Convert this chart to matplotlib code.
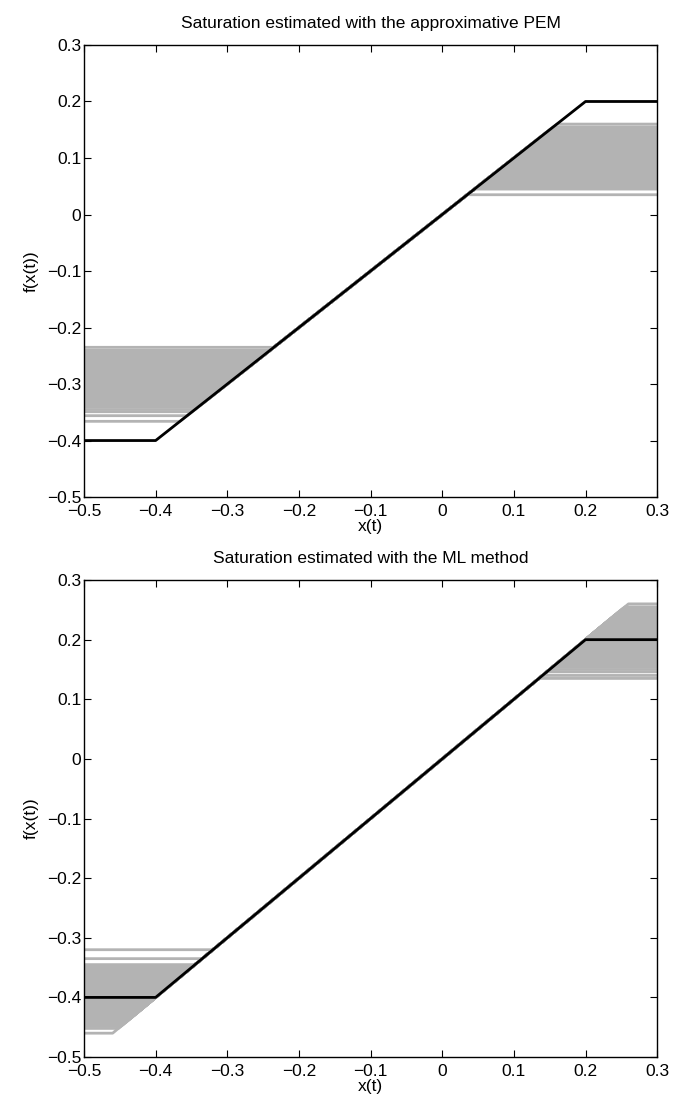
import numpy as np
import matplotlib
matplotlib.use('Agg')
import matplotlib.pyplot as plt

plt.rcParams['font.family'] = ['Liberation Sans', 'DejaVu Sans']

# 真实饱和限
true_lo = -0.4
true_hi = 0.2

# PEM 估计的饱和下限/上限（每条灰线一对）
pem_lo = [-0.235, -0.240, -0.242, -0.245, -0.247, -0.250, -0.253, -0.255, -0.258, -0.260,
          -0.262, -0.265, -0.268, -0.270, -0.272, -0.275, -0.277, -0.280, -0.283, -0.285,
          -0.287, -0.290, -0.292, -0.295, -0.298, -0.300, -0.302, -0.305, -0.307, -0.310,
          -0.313, -0.315, -0.318, -0.320, -0.322, -0.325, -0.328, -0.330, -0.333, -0.335,
          -0.338, -0.340, -0.345, -0.349, -0.356, -0.366]
pem_hi = [0.160, 0.155, 0.153, 0.150, 0.148, 0.146, 0.143, 0.141, 0.138, 0.136,
          0.133, 0.131, 0.128, 0.126, 0.123, 0.121, 0.118, 0.116, 0.113, 0.111,
          0.108, 0.106, 0.103, 0.101, 0.098, 0.096, 0.093, 0.091, 0.088, 0.086,
          0.083, 0.081, 0.078, 0.076, 0.073, 0.071, 0.068, 0.066, 0.063, 0.061,
          0.058, 0.055, 0.052, 0.048, 0.045, 0.035]

# ML 估计
ml_lo = [-0.320, -0.335, -0.345, -0.347, -0.350, -0.352, -0.355, -0.357, -0.360, -0.362,
         -0.365, -0.367, -0.370, -0.372, -0.375, -0.377, -0.380, -0.382, -0.385, -0.387,
         -0.390, -0.392, -0.395, -0.397, -0.400, -0.402, -0.405, -0.407, -0.410, -0.412,
         -0.415, -0.417, -0.420, -0.422, -0.425, -0.427, -0.430, -0.432, -0.435, -0.437,
         -0.440, -0.442, -0.445, -0.448, -0.452, -0.460]
ml_hi = [0.260, 0.255, 0.252, 0.250, 0.247, 0.245, 0.242, 0.240, 0.237, 0.235,
         0.232, 0.230, 0.227, 0.225, 0.222, 0.220, 0.217, 0.215, 0.212, 0.210,
         0.207, 0.205, 0.202, 0.200, 0.197, 0.195, 0.192, 0.190, 0.187, 0.185,
         0.182, 0.180, 0.177, 0.175, 0.172, 0.170, 0.167, 0.165, 0.162, 0.160,
         0.157, 0.154, 0.150, 0.146, 0.140, 0.135]

xticks = [-0.5, -0.4, -0.3, -0.2, -0.1, 0, 0.1, 0.2, 0.3]
xticklabels = ['\u22120.5', '\u22120.4', '\u22120.3', '\u22120.2', '\u22120.1', '0', '0.1', '0.2', '0.3']
yticks = xticks
yticklabels = xticklabels

titles = ['Saturation estimated with the approximative PEM',
          'Saturation estimated with the ML method']


def sat_curve(lo, hi):
    # 饱和函数折线: 左平台 - 斜率1 - 右平台
    return [-0.5, lo, hi, 0.3], [lo, lo, hi, hi]


fig = plt.figure(figsize=(6.74, 11.08), dpi=100, facecolor='white')
ax1 = fig.add_axes([0.1246, 0.5514, 0.8504, 0.408])
ax2 = fig.add_axes([0.1246, 0.0460, 0.8504, 0.4305])

for ax, los, his, title in [(ax1, pem_lo, pem_hi, titles[0]), (ax2, ml_lo, ml_hi, titles[1])]:
    for lo, hi in zip(los, his):
        xs, ys = sat_curve(lo, hi)
        ax.plot(xs, ys, color=(0.7, 0.7, 0.7), lw=2.0)
    xs, ys = sat_curve(true_lo, true_hi)
    ax.plot(xs, ys, color='black', lw=2.0)
    ax.set_xlim(-0.5, 0.3)
    ax.set_ylim(-0.5, 0.3)
    ax.set_xticks(xticks)
    ax.set_xticklabels(xticklabels, fontsize=12.5)
    ax.set_yticks(yticks)
    ax.set_yticklabels(yticklabels, fontsize=12.5)
    ax.tick_params(direction='in', length=5, width=0.8, top=True, right=True)
    ax.tick_params(axis='x', pad=5)
    ax.tick_params(axis='y', pad=2)
    for s in ax.spines.values():
        s.set_linewidth(1.0)
    ax.set_title(title, fontsize=12.5, pad=12)
    ax.set_xlabel('x(t)', fontsize=12.5, labelpad=0)
    ax.set_ylabel('f(x(t))', fontsize=12.5, labelpad=6)

plt.savefig('out.png', dpi=100)
